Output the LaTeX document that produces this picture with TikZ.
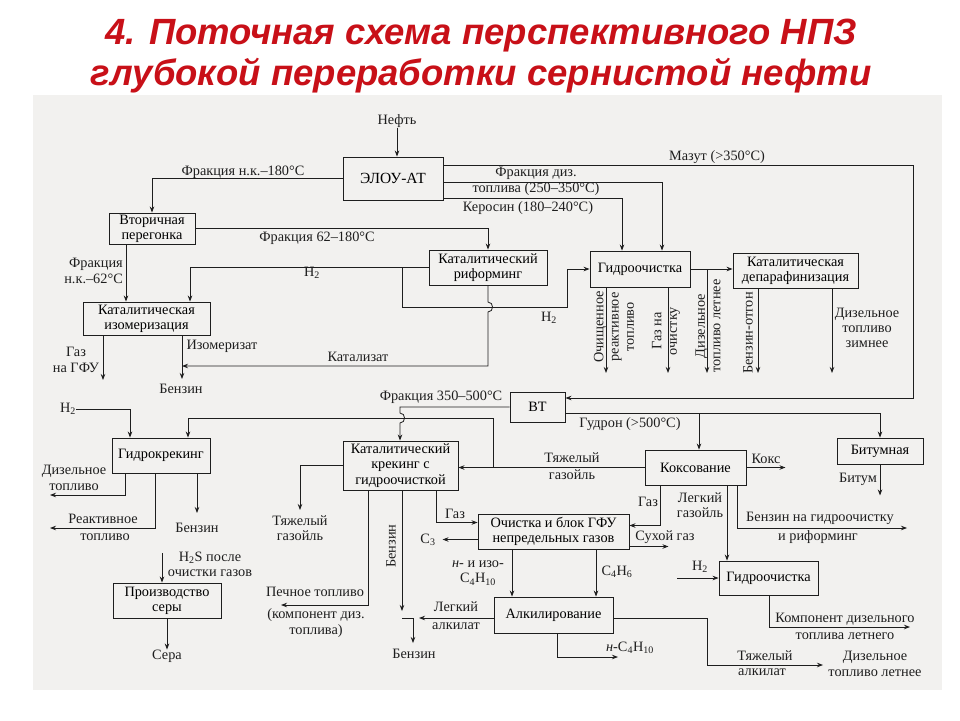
\documentclass[tikz,border=0pt]{standalone}
\usepackage{fontspec}
\setmainfont{Liberation Serif}
\newfontfamily\titlefont{Liberation Sans}
\usetikzlibrary{arrows.meta}
\definecolor{titlered}{RGB}{200,16,24}
\definecolor{scanbg}{RGB}{242,241,239}
\definecolor{ink}{RGB}{30,30,30}
\newcommand\dgtext{\fontsize{14.3}{15.3}\selectfont}
\begin{document}
\begin{tikzpicture}[x=1pt,y=-1pt,
  box/.style={draw=ink, line width=0.9pt, inner sep=1pt, align=center, font=\dgtext, fill=scanbg},
  lbl/.style={inner sep=0pt, align=center, font=\dgtext, text=ink},
  arr/.style={draw=ink, line width=0.8pt, -{Stealth[length=6pt,width=4.5pt]}},
  ln/.style={draw=ink, line width=0.8pt},
  ttl/.style={inner sep=0pt, text=titlered, font=\titlefont\bfseries\itshape\fontsize{36.5}{40}\selectfont}]
\useasboundingbox (0,0) rectangle (960,720);
\fill[white] (0,0) rectangle (960,720);
\fill[scanbg] (33,95) rectangle (942,690);

% title
\node[ttl] (title1) at (481,36) {4. Поточная схема перспективного НПЗ};
\node[ttl] (title2) at (481,76) {глубокой переработки сернистой нефти};

% boxes
\node[box, minimum width=100pt, minimum height=43pt, font=\fontsize{15.5}{17}\selectfont] (elou) at (393,178.5) {ЭЛОУ-АТ};
\node[box, minimum width=86pt, minimum height=31pt] (vtor) at (152,228.5) {Вторичная\\перегонка};
\node[box, minimum width=118pt, minimum height=35pt] (reform) at (488,267.5) {Каталитический\\риформинг};
\node[box, minimum width=127pt, minimum height=33pt] (isom) at (146.5,318.5) {Каталитическая\\изомеризация};
\node[box, minimum width=100pt, minimum height=36pt] (hydroA) at (640,269) {Гидроочистка};
\node[box, minimum width=125pt, minimum height=35pt] (depar) at (795.5,270.5) {Каталитическая\\депарафинизация};
\node[box, minimum width=55pt, minimum height=30pt] (vt) at (537.5,407) {ВТ};
\node[box, minimum width=98pt, minimum height=35pt] (hcrack) at (161,455.5) {Гидрокрекинг};
\node[box, minimum width=115pt, minimum height=49pt] (catcr) at (400.5,465.5) {Каталитический\\крекинг с\\гидроочисткой};
\node[box, minimum width=101pt, minimum height=35pt] (coking) at (695.5,467.5) {Коксование};
\node[box, minimum width=86pt, minimum height=26pt] (bitum) at (880,451) {Битумная};
\node[box, minimum width=151pt, minimum height=35pt] (gfu) at (553.5,531.5) {Очистка и блок ГФУ\\непредельных газов};
\node[box, minimum width=108pt, minimum height=35pt] (sulfur) at (167,600.5) {Производство\\серы};
\node[box, minimum width=119pt, minimum height=36pt] (alkyl) at (553.5,615) {Алкилирование};
\node[box, minimum width=99pt, minimum height=34pt] (hydroB) at (768.5,578) {Гидроочистка};

% labels
\node[lbl] (neft) at (397,121) {Нефть};
\node[lbl] (lnk180) at (243,172) {Фракция н.к.–180°С};
\node[lbl] (l62) at (317,238) {Фракция 62–180°С};
\node[lbl, align=right, anchor=east] (lnk62) at (123,271) {Фракция\\н.к.–62°С};
\node[lbl] (lh2a) at (312,273) {H\textsubscript{2}};
\node[lbl] (lkat) at (358,357) {Катализат};
\node[lbl] (lizo) at (222,346) {Изомеризат};
\node[lbl] (lbenz1) at (181,389) {Бензин};
\node[lbl] (lgas1) at (76,360) {Газ\\на ГФУ};
\node[lbl] (lker) at (528,208) {Керосин (180–240°С)};
\node[lbl] (ldiz1) at (536,173) {Фракция диз.};
\node[lbl] (ldiz2) at (536,189) {топлива (250–350°С)};
\node[lbl] (lmaz) at (717,157) {Мазут (>350°С)};
\node[lbl] (lh2b) at (549,318) {H\textsubscript{2}};
\node[lbl, rotate=90] (rot1) at (614,327) {Очищенное\\реактивное\\топливо};
\node[lbl, rotate=90] (rot2) at (666,331) {Газ на\\очистку};
\node[lbl, rotate=90] (rot3) at (708,326) {Дизельное\\топливо летнее};
\node[lbl, rotate=90] (rot4) at (748,333) {Бензин-отгон};
\node[lbl] (ldzim) at (867,328) {Дизельное\\топливо\\зимнее};
\node[lbl] (l350) at (441,397) {Фракция 350–500°С};
\node[lbl] (lgud) at (630,424) {Гудрон (>500°С)};
\node[lbl] (lh2c) at (68,409) {H\textsubscript{2}};
\node[lbl] (ldt) at (74,478) {Дизельное\\топливо};
\node[lbl] (lrt1) at (103,519) {Реактивное};
\node[lbl] (lrt2) at (105,537) {топливо};
\node[lbl] (lbenz2) at (197,528) {Бензин};
\node[lbl] (lh2s) at (210,564) {H\textsubscript{2}S после\\очистки газов};
\node[lbl] (lsera) at (167,656) {Сера};
\node[lbl] (ltg1) at (300,528) {Тяжелый\\газойль};
\node[lbl] (lpech1) at (315,592) {Печное топливо};
\node[lbl] (lpech2) at (316,623) {(компонент диз.\\топлива)};
\node[lbl, rotate=90] (lbenz3) at (391,546) {Бензин};
\node[lbl] (lbenz4) at (414,654) {Бензин};
\node[lbl] (lla1) at (456,607) {Легкий};
\node[lbl] (lla2) at (456,626) {алкилат};
\node[lbl] (lgas2) at (455,514) {Газ};
\node[lbl] (lc3) at (428,540) {C\textsubscript{3}};
\node[lbl] (lnc4) at (478,573) {\textit{н}- и изо-\\C\textsubscript{4}H\textsubscript{10}};
\node[lbl] (lc4h6) at (617,572) {C\textsubscript{4}H\textsubscript{6}};
\node[lbl] (ldry) at (665,537) {Сухой газ};
\node[lbl] (lgas3) at (648,502) {Газ};
\node[lbl] (llg) at (700,505) {Легкий\\газойль};
\node[lbl] (lbg1) at (820,518) {Бензин на гидроочистку};
\node[lbl] (lbg2) at (818,537) {и риформинг};
\node[lbl] (lkoks) at (766,459) {Кокс};
\node[lbl] (ltg2a) at (572,458) {Тяжелый};
\node[lbl] (ltg2b) at (572,475) {газойль};
\node[lbl] (lbit) at (858,479) {Битум};
\node[lbl] (lh2d) at (700,567) {H\textsubscript{2}};
\node[lbl] (lkomp1) at (845,619) {Компонент дизельного};
\node[lbl] (lkomp2) at (845,636) {топлива летнего};
\node[lbl] (lta1) at (765,656) {Тяжелый};
\node[lbl] (lta2) at (762,672) {алкилат};
\node[lbl] (ldl) at (875,664) {Дизельное\\топливо летнее};
\node[lbl] (lnc4b) at (630,648) {\textit{н}-C\textsubscript{4}H\textsubscript{10}};

% connectors: upper part
\draw[arr] (neft.south) -- (neft.south |- elou.north);
\draw[arr] (elou.west) -| (vtor.north);
\draw[arr] (vtor.east) -| (reform.north);
\draw[arr] (126,0 |- vtor.south) -- (126,0 |- isom.north);
\draw[arr] (reform.west) -| (190,0 |- isom.north);
\coordinate (hj) at (402,0 |- reform.west);
\draw[arr] (hj) -- (402,307) -| (567,0 |- hydroA.west) -- (hydroA.west);
\draw[arr] (reform.south) -- (488,302) .. controls (494,302) and (494,312) .. (488,312) -- (488,366) -- (182,366);
\draw[arr] (182,0 |- isom.south) -- (182,379);
\draw[arr] (103,0 |- isom.south) -- (103,380);
\draw[arr] ([yshift=2pt]elou.south east) -| (622,0 |- hydroA.north);
\draw[arr] (elou.east |- 0,182) -| (662,0 |- hydroA.north);
\draw[arr] (elou.east |- 0,165) -- (913,165) |- ([yshift=9pt]vt.east);
\draw[arr] (hydroA.east) -- (hydroA.east -| depar.west);
\draw[arr] (606,0 |- hydroA.south) -- (606,373);
\draw[arr] (668,0 |- hydroA.south) -- (668,373);
\draw[arr] (707,0 |- hydroA.east) -- (707,373);
\draw[arr] (758,0 |- depar.south) -- (758,373);
\draw[arr] (832,0 |- depar.south) -- (832,373);

% lower part
\draw[arr] (vt.west) -- (400,0 |- vt.west) -- (400,413) .. controls (406,413) and (406,423) .. (400,423) -- (400,0 |- catcr.north);
\draw[arr] (coking.west) -- (coking.west -| catcr.east);
\draw[arr] (493,0 |- coking.west) -- (493,418) -- (188,418) -- (188,0 |- hcrack.north);
\draw[arr] (lh2c.east) -| (130,0 |- hcrack.north);
\draw[arr] (125,0 |- hcrack.south) |- (50,495);
\draw[arr] (155,0 |- hcrack.south) |- (50,528);
\draw[arr] (197,0 |- hcrack.south) -- (197,513);
\coordinate (h2s) at (162,553);
\draw[arr] (h2s) -- (h2s |- sulfur.north);
\draw[arr] (sulfur.south) -- (lsera.north);
\draw[arr] (catcr.west) -| (300,510);
\draw[arr] (368,0 |- catcr.south) |- (281,605);
\draw[arr] (402,0 |- catcr.south) -- (402,611);
\coordinate (bj) at (413,618);
\draw[ln] (402,618) -- (bj);
\draw[arr] ([yshift=-3pt]alkyl.west) -- (419,618);
\draw[arr] (bj) -- (413,643);
\draw[arr] (436,0 |- catcr.south) |- ([yshift=9pt]gfu.west);
\draw[arr] ([yshift=-8pt]gfu.west) -- ++(-35,0);
\draw[arr] (512,0 |- gfu.south) -- (512,0 |- alkyl.north);
\draw[arr] (596,0 |- gfu.south) -- (596,0 |- alkyl.north);
\draw[arr] ([yshift=-15pt]gfu.east) -- ++(39,0);
\draw[arr] (660,0 |- coking.south) |- ([yshift=6pt]gfu.east);
\draw[arr] (727,0 |- coking.south) -- (727,0 |- hydroB.north);
\draw[arr] (737,0 |- coking.south) |- (907,528);
\draw[arr] (coking.east) -- ++(39,0);
\draw[arr] ([yshift=-6pt]vt.east) -| (bitum.north);
\draw[arr] (699,413) -- (699,0 |- coking.north);
\draw[arr] (bitum.south) -- ++(0,31);
\draw[arr] (677,0 |- hydroB.west) -- (hydroB.west);
\draw[arr] (769,0 |- hydroB.south) |- (910,627);
\draw[arr] ([yshift=-3pt]alkyl.east) -| (707,665) -- (823,665);
\draw[arr] (557,0 |- alkyl.south) |- (618,657);
\end{tikzpicture}
\end{document}
